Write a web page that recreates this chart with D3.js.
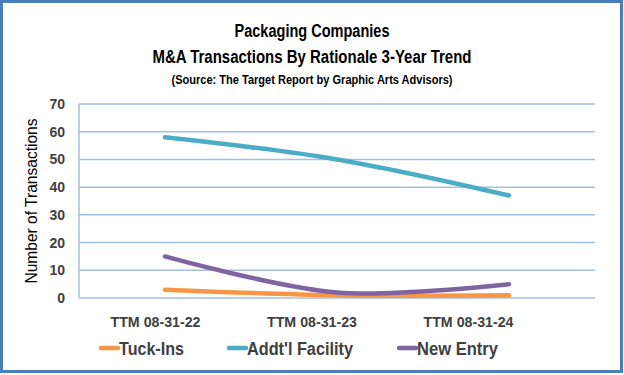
<!DOCTYPE html>
<html><head><meta charset="utf-8">
<script src="https://cdn.jsdelivr.net/npm/d3@7"></script>
<style>
html,body{margin:0;padding:0;background:#fff;}
svg{display:block;font-family:"Liberation Sans",Arial,sans-serif;}
</style></head>
<body><svg id="chart" width="624" height="375"></svg>
<script>
// ── data ──
const categories=['TTM 08-31-22','TTM 08-31-23','TTM 08-31-24'];
const seriesNames=['Tuck-Ins',"Addt'l Facility",'New Entry'];
const tuckIns=[3,1,1];
const addtlFacility=[58,50,37];
const newEntry=[15,2,5];
const yTicks=[0,10,20,30,40,50,60,70];
const titleLines=['Packaging Companies','M&A Transactions By Rationale 3-Year Trend'];
const subtitle='(Source: The Target Report by Graphic Arts Advisors)';

const COL={tuck:'#f79646',addtl:'#4bacc6',entry:'#8064a2',grid:'#a4bfe0',border:'#4a7ebb',text:'#404040'};
const series=[
  {name:seriesNames[0],vals:tuckIns,color:COL.tuck},
  {name:seriesNames[1],vals:addtlFacility,color:COL.addtl},
  {name:seriesNames[2],vals:newEntry,color:COL.entry}
];

const svg=d3.select('#chart');
const W=624,H=375;
const M={l:79,r:29,t:104,b:77}; // plot box 79..595 x 104..298

svg.append('rect').attr('x',1.5).attr('y',1.5).attr('width',W-4).attr('height',H-5)
  .attr('fill','#fff').attr('stroke',COL.border).attr('stroke-width',3);

// titles — squeezed to the narrow Calibri widths of the original
const tt=svg.append('g').attr('fill','#000').attr('font-weight','bold').attr('text-anchor','middle');
[[titleLines[0],37,18,155],[titleLines[1],63,18,319],[subtitle,84,12.5,281]].forEach(([t,yy,fs,w])=>{
  tt.append('text').attr('x',312).attr('y',yy).attr('font-size',fs)
    .attr('textLength',w).attr('lengthAdjust','spacingAndGlyphs').text(t);
});

const x=d3.scaleBand().domain(categories).range([M.l,W-M.r]);
const xLab=d3.scalePoint().domain(categories).range([155,468]);
const y=d3.scaleLinear().domain([0,70]).range([H-M.b,M.t]);

// grid
svg.append('g').selectAll('line').data(yTicks).join('line')
  .attr('x1',M.l).attr('x2',W-M.r).attr('y1',d=>y(d)).attr('y2',d=>y(d))
  .attr('stroke',COL.grid).attr('stroke-width',1.5);
svg.append('line').attr('x1',M.l).attr('x2',M.l).attr('y1',y(70)).attr('y2',y(0))
  .attr('stroke',COL.grid).attr('stroke-width',1.5);

// y axis labels
const yAxis=d3.axisLeft(y).tickValues(yTicks).tickSize(0).tickPadding(14);
const ya=svg.append('g').attr('transform',`translate(${M.l},0)`).call(yAxis);
ya.select('.domain').remove();
ya.selectAll('text').attr('font-size',14).attr('font-weight','bold').attr('fill',COL.text)
  .attr('font-family','inherit');

svg.append('text').attr('transform',`translate(37,${(y(0)+y(70))/2}) rotate(-90)`)
  .attr('text-anchor','middle').attr('font-size',16).attr('fill','#000')
  .attr('textLength',165).attr('lengthAdjust','spacingAndGlyphs').text('Number of Transactions');

// x axis labels
const xAxis=d3.axisBottom(xLab).tickSize(0).tickPadding(0);
const xa=svg.append('g').attr('transform','translate(0,327)').call(xAxis);
xa.select('.domain').remove();
xa.selectAll('text').attr('dy',0).attr('font-size',14.5).attr('font-weight','bold').attr('fill',COL.text)
  .attr('font-family','inherit').attr('textLength',90).attr('lengthAdjust','spacingAndGlyphs');

// lines
const line=d3.line().x((d,i)=>x(categories[i])+x.bandwidth()/2).y(d=>y(d)).curve(d3.curveCatmullRom.alpha(0.5));
svg.append('g').selectAll('path').data(series).join('path')
  .attr('d',d=>line(d.vals)).attr('fill','none').attr('stroke',d=>d.color)
  .attr('stroke-width',4.5).attr('stroke-linecap','round');

// legend
const legX=[100,228,398],legW=[65,106,81];
const lg=svg.append('g').selectAll('g').data(series).join('g')
  .attr('transform',(d,i)=>`translate(${legX[i]},355)`);
lg.append('line').attr('x1',1).attr('x2',18).attr('y1',-7).attr('y2',-7)
  .attr('stroke',d=>d.color).attr('stroke-width',4.5).attr('stroke-linecap','round');
lg.append('text').attr('x',19).attr('y',0).attr('font-size',17.5).attr('font-weight','bold')
  .attr('fill',COL.text).attr('textLength',(d,i)=>legW[i]).attr('lengthAdjust','spacingAndGlyphs')
  .text(d=>d.name);
</script></body></html>
